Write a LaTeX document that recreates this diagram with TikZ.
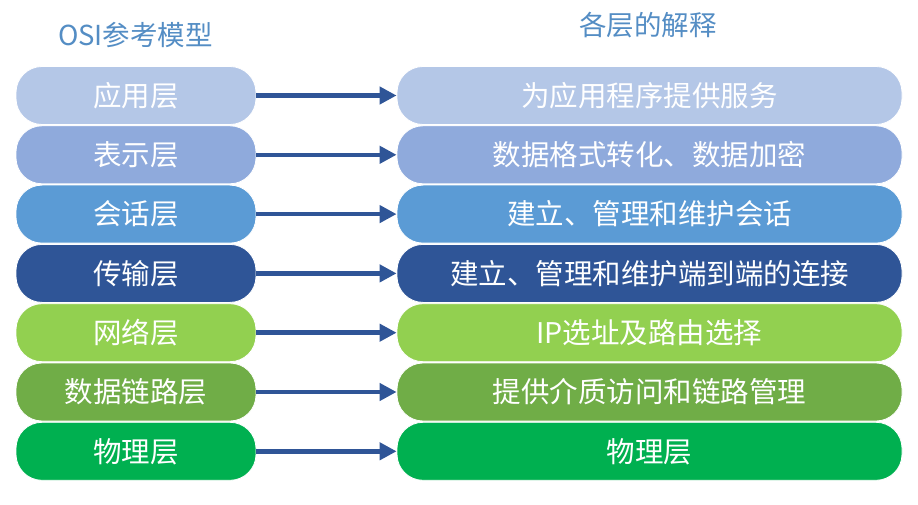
\documentclass[tikz,border=0pt]{standalone}
\usepackage{fontspec}
\setmainfont{Noto Sans CJK SC}
\usetikzlibrary{arrows.meta}
\definecolor{appblue}{RGB}{180,199,231}
\definecolor{presblue}{RGB}{143,170,220}
\definecolor{sessblue}{RGB}{91,155,213}
\definecolor{transblue}{RGB}{47,85,151}
\definecolor{netgreen}{RGB}{146,208,80}
\definecolor{linkgreen}{RGB}{112,173,71}
\definecolor{physgreen}{RGB}{0,176,80}
\definecolor{arrowblue}{RGB}{47,85,151}
\definecolor{titleblue}{RGB}{84,141,196}
\begin{document}
\begin{tikzpicture}[x=1pt,y=-1pt,
  layer/.style={rounded corners=26pt, minimum height=58pt, draw=white, line width=0.8pt,
    text=white, inner sep=0pt, font=\fontsize{28.5}{30}\selectfont},
  osi/.style={layer, minimum width=240pt},
  expl/.style={layer, minimum width=505pt},
  link/.style={draw=arrowblue, line width=4.5pt, -{Triangle[length=17pt,width=17pt]}},
  heading/.style={text=titleblue, font=\fontsize{27.5}{29}\selectfont}]
\useasboundingbox (0,0) rectangle (918,505);
\node[heading] (osititle) at (135.5,35) {OSI参考模型};
\node[heading] (expltitle) at (648,25) {各层的解释};
% left column
\node[osi, fill=appblue] (app) at (136,95.5) {应用层};
\node[osi, fill=presblue] (pres) at (136,154.8) {表示层};
\node[osi, fill=sessblue] (sess) at (136,214.1) {会话层};
\node[osi, fill=transblue] (trans) at (136,273.4) {传输层};
\node[osi, fill=netgreen] (net) at (136,332.7) {网络层};
\node[osi, fill=linkgreen] (dlink) at (136,392) {数据链路层};
\node[osi, fill=physgreen] (phys) at (136,451.3) {物理层};
% right column
\node[expl, fill=appblue] (appx) at (649.5,95.5) {为应用程序提供服务};
\node[expl, fill=presblue] (presx) at (649.5,154.8) {数据格式转化、数据加密};
\node[expl, fill=sessblue] (sessx) at (649.5,214.1) {建立、管理和维护会话};
\node[expl, fill=transblue] (transx) at (649.5,273.4) {建立、管理和维护端到端的连接};
\node[expl, fill=netgreen] (netx) at (649.5,332.7) {IP选址及路由选择};
\node[expl, fill=linkgreen] (dlinkx) at (649.5,392) {提供介质访问和链路管理};
\node[expl, fill=physgreen] (physx) at (649.5,451.3) {物理层};
% arrows
\draw[link] (app) -- (appx);
\draw[link] (pres) -- (presx);
\draw[link] (sess) -- (sessx);
\draw[link] (trans) -- (transx);
\draw[link] (net) -- (netx);
\draw[link] (dlink) -- (dlinkx);
\draw[link] (phys) -- (physx);
\end{tikzpicture}
\end{document}
